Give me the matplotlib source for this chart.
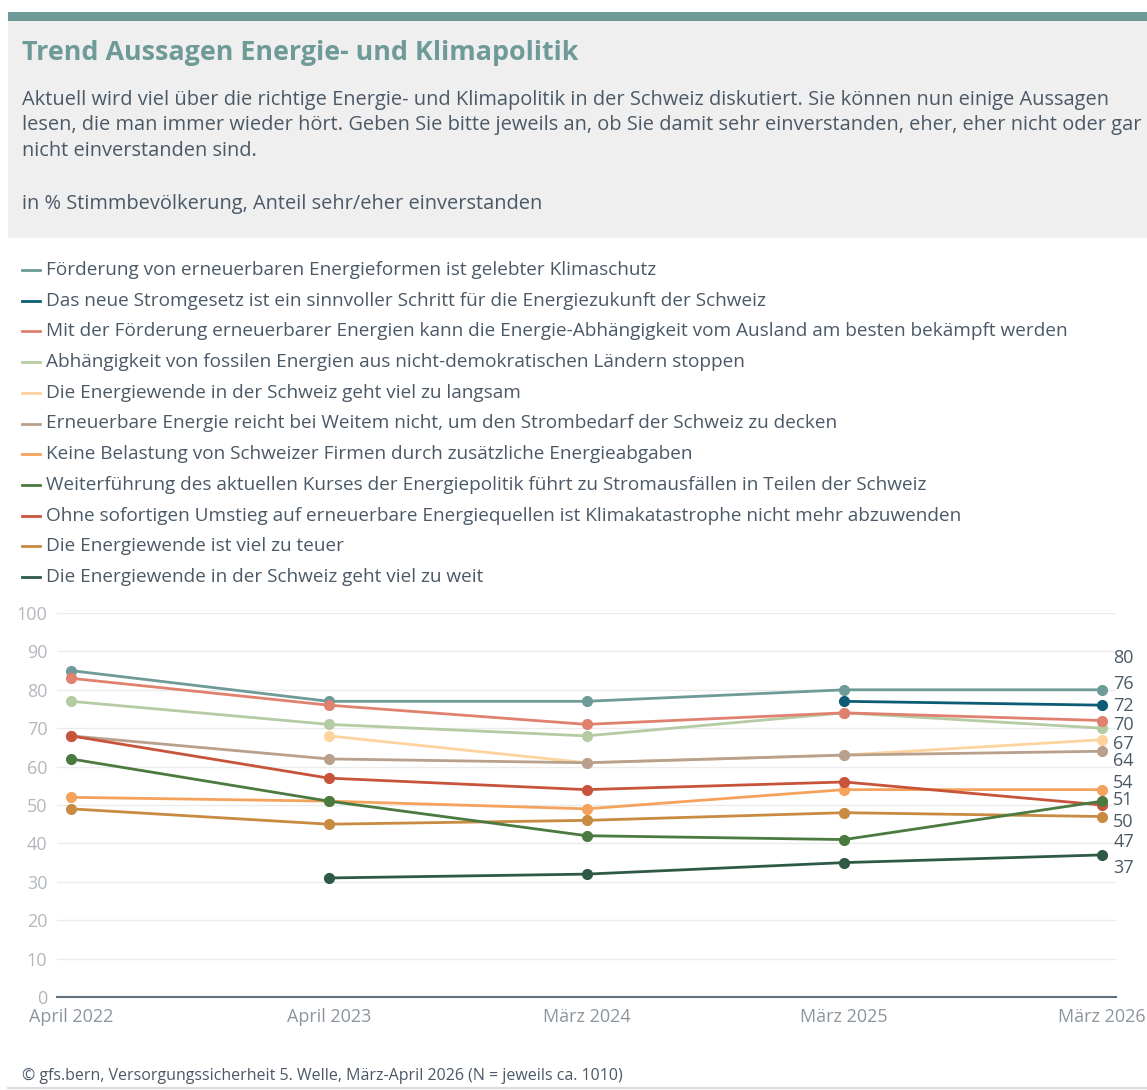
import numpy as np
import matplotlib
matplotlib.use("Agg")
import matplotlib.pyplot as plt
from matplotlib.patches import Rectangle
from matplotlib.lines import Line2D

plt.rcParams["font.family"] = ["Open Sans", "DejaVu Sans"]

# survey waves
waves = ["April 2022", "April 2023", "März 2024", "März 2025", "März 2026"]

statements = [
    "Förderung von erneuerbaren Energieformen ist gelebter Klimaschutz",
    "Das neue Stromgesetz ist ein sinnvoller Schritt für die Energiezukunft der Schweiz",
    "Mit der Förderung erneuerbarer Energien kann die Energie-Abhängigkeit vom Ausland am besten bekämpft werden",
    "Abhängigkeit von fossilen Energien aus nicht-demokratischen Ländern stoppen",
    "Die Energiewende in der Schweiz geht viel zu langsam",
    "Erneuerbare Energie reicht bei Weitem nicht, um den Strombedarf der Schweiz zu decken",
    "Keine Belastung von Schweizer Firmen durch zusätzliche Energieabgaben",
    "Weiterführung des aktuellen Kurses der Energiepolitik führt zu Stromausfällen in Teilen der Schweiz",
    "Ohne sofortigen Umstieg auf erneuerbare Energiequellen ist Klimakatastrophe nicht mehr abzuwenden",
    "Die Energiewende ist viel zu teuer",
    "Die Energiewende in der Schweiz geht viel zu weit",
]

nan = np.nan
foerderung_klimaschutz = [85, 77, 77, 80, 80]
stromgesetz = [nan, nan, nan, 77, 76]
abhaengigkeit_ausland = [83, 76, 71, 74, 72]
fossile_stoppen = [77, 71, 68, 74, 70]
zu_langsam = [nan, 68, 61, 63, 67]
reicht_nicht = [68, 62, 61, 63, 64]
keine_belastung = [52, 51, 49, 54, 54]
stromausfaelle = [62, 51, 42, 41, 51]
klimakatastrophe = [68, 57, 54, 56, 50]
zu_teuer = [49, 45, 46, 48, 47]
zu_weit = [nan, 31, 32, 35, 37]

series = [foerderung_klimaschutz, stromgesetz, abhaengigkeit_ausland, fossile_stoppen,
          zu_langsam, reicht_nicht, keine_belastung, stromausfaelle,
          klimakatastrophe, zu_teuer, zu_weit]

colors = ["#6e9a98", "#0d5c75", "#e0806f", "#b4cba3", "#fdd39e", "#b8a08c",
          "#f5a25d", "#4b7a40", "#c8533b", "#c98a42", "#2e5a45"]
zorders = [3.0, 3.1, 3.3, 3.2, 3.0, 3.5, 3.1, 3.7, 3.6, 3.2, 3.2]

# end labels are nudged apart so they don't collide
end_label_y = [88.3, 81.5, 75.8, 70.8, 66.0, 61.4, 55.7, 51.3, 45.6, 40.4, 33.6]

W, H = 1147, 1090
TEXT = "#4b5967"


def fx(x):
    return x / W


def fy(y):
    return 1 - y / H


fig = plt.figure(figsize=(W / 100, H / 100), dpi=100)

# header block
fig.add_artist(Rectangle((fx(8), fy(238)), fx(W - 8), (238 - 21) / H,
                         transform=fig.transFigure, color="#efefef", lw=0))
fig.add_artist(Rectangle((fx(8), fy(21)), fx(W - 8), 9 / H,
                         transform=fig.transFigure, color="#6e9a98", lw=0))
fig.text(fx(22), fy(53), "Trend Aussagen Energie- und Klimapolitik", fontsize=19.4,
         fontweight="bold", color="#6e9a98", va="center")
intro = ("Aktuell wird viel über die richtige Energie- und Klimapolitik in der Schweiz diskutiert. Sie können nun einige Aussagen\n"
         "lesen, die man immer wieder hört. Geben Sie bitte jeweils an, ob Sie damit sehr einverstanden, eher, eher nicht oder gar\n"
         "nicht einverstanden sind.")
fig.text(fx(22), fy(90), intro, fontsize=14.4, color=TEXT, va="top", linespacing=1.36)
fig.text(fx(22), fy(204), "in % Stimmbevölkerung, Anteil sehr/eher einverstanden",
         fontsize=14.4, color=TEXT, va="center")

# legend
for i, (lab, c) in enumerate(zip(statements, colors)):
    y = 270 + i * 30.7
    fig.add_artist(Line2D([fx(22), fx(40)], [fy(y), fy(y)], color=c, lw=2,
                          transform=fig.transFigure))
    fig.text(fx(46), fy(y), lab, fontsize=13.7, color=TEXT, va="center")

# chart
ax = fig.add_axes([fx(57), fy(997), (1116 - 57) / W, (997 - 613) / H])
x = np.arange(len(waves))
for vals, c, z in zip(series, colors, zorders):
    ax.plot(x, vals, color=c, lw=2, marker="o", markersize=7, zorder=z,
            clip_on=False)

for vals, c, ly in zip(series, colors, end_label_y):
    ax.annotate(f"{vals[-1]:.0f}", xy=(x[-1], ly), xytext=(8, 0),
                textcoords="offset points", va="center", ha="left",
                fontsize=13, color=TEXT, annotation_clip=False)

ax.set_xlim(-0.054, len(waves) - 1 + 0.054)
ax.set_ylim(0, 100)
ax.set_yticks(range(0, 101, 10))
ax.set_xticks(x)
ax.set_xticklabels(waves)
ax.grid(axis="y", color="#ebebeb", lw=1)
ax.set_axisbelow(True)
for s in ["left", "right", "top"]:
    ax.spines[s].set_visible(False)
ax.spines["bottom"].set_color("#5f6f7c")
ax.spines["bottom"].set_linewidth(1.5)
ax.tick_params(axis="y", length=0, pad=7, labelsize=13, labelcolor="#b3b8bd")
ax.tick_params(axis="x", length=0, pad=8, labelsize=13, labelcolor="#8c959d")

# footer
fig.text(fx(22), fy(1076), "© gfs.bern, Versorgungssicherheit 5. Welle, März-April 2026 (N = jeweils ca. 1010)",
         fontsize=11.5, color=TEXT, va="center")
fig.add_artist(Line2D([fx(8), 1], [fy(1088), fy(1088)], color="#dcdcdc", lw=1.5,
                      transform=fig.transFigure))

fig.savefig("out.png", dpi=100)
